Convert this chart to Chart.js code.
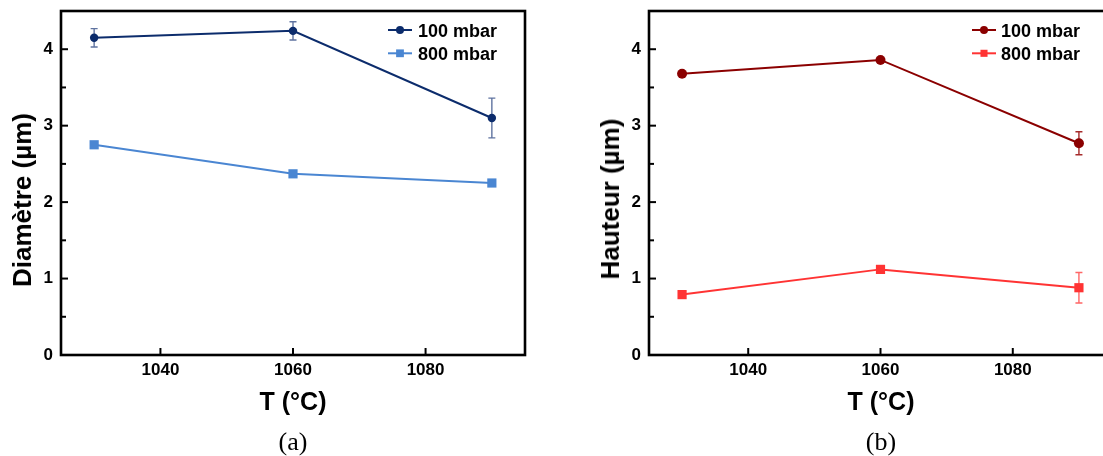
<!DOCTYPE html>
<html>
<head>
<meta charset="utf-8">
<script src="https://cdn.jsdelivr.net/npm/chart.js@4.4.1/dist/chart.umd.min.js"></script>
<style>
  html, body { margin:0; padding:0; background:#fff; width:1103px; height:456px; overflow:hidden; position:relative; }
  canvas { position:absolute; top:0; }
  .t { position:absolute; font-family:"Liberation Sans", Arial, sans-serif; font-weight:bold; color:#000; white-space:nowrap; line-height:1; }
  .cap { position:absolute; font-family:"Liberation Serif", "DejaVu Serif", serif; color:#000; white-space:nowrap; line-height:1; font-size:26px; transform:translateX(-50%); }
  .yt { transform:translate(-50%,-50%) rotate(-90deg); font-size:26px; }
  .xt { transform:translateX(-50%); font-size:25px; }
</style>
</head>
<body>
<canvas id="ca" width="545" height="456" style="left:0px"></canvas>
<canvas id="cb" width="560" height="456" style="left:560px"></canvas>

<div class="t yt" style="left:22px; top:199.5px;">Diamètre (µm)</div>
<div class="t xt" style="left:293px; top:388.5px;">T (°C)</div>
<div class="cap" style="left:293px; top:428.5px;">(a)</div>

<div class="t yt" style="left:610px; top:199px;">Hauteur (µm)</div>
<div class="t xt" style="left:881px; top:388.5px;">T (°C)</div>
<div class="cap" style="left:881px; top:428.5px;">(b)</div>

<script>
// ---------------- data ----------------
const temps = [1030, 1060, 1090];
const seriesLabels = ['100 mbar', '800 mbar'];

const diam100 = [4.15, 4.24, 3.10];
const diam100Err = [0.12, 0.12, 0.26];
const diam800 = [2.75, 2.37, 2.25];
const diam800Err = [0, 0, 0];

const haut100 = [3.68, 3.86, 2.77];
const haut100Err = [0, 0, 0.15];
const haut800 = [0.79, 1.12, 0.88];
const haut800Err = [0, 0, 0.20];

const xTicks = [1040, 1060, 1080];
const yTicks = [0, 0.5, 1, 1.5, 2, 2.5, 3, 3.5, 4, 4.5];
const xMin = 1025, xMax = 1095, yMin = 0, yMax = 4.5;

// ---------------- plugins ----------------
const frameTicks = {
  id: 'frameTicks',
  afterDraw(chart) {
    const ctx = chart.ctx, a = chart.chartArea;
    const xs = chart.scales.x, ys = chart.scales.y;
    ctx.save();
    ctx.strokeStyle = '#000';
    ctx.lineWidth = 2;
    ys.ticks.forEach(t => {
      const py = ys.getPixelForValue(t.value);
      const len = Number.isInteger(t.value) ? 7 : 5;
      ctx.beginPath(); ctx.moveTo(a.left, py); ctx.lineTo(a.left + len, py); ctx.stroke();
    });
    xs.ticks.forEach(t => {
      const px = xs.getPixelForValue(t.value);
      ctx.beginPath(); ctx.moveTo(px, a.bottom); ctx.lineTo(px, a.bottom - 7); ctx.stroke();
    });
    ctx.lineWidth = 2.6;
    ctx.strokeRect(a.left, a.top, a.right - a.left, a.bottom - a.top);
    ctx.restore();
  }
};

const errorBars = {
  id: 'errorBars',
  beforeDatasetsDraw(chart) {
    const ctx = chart.ctx;
    const xs = chart.scales.x, ys = chart.scales.y;
    chart.data.datasets.forEach(ds => {
      if (!ds.errors) return;
      ctx.save();
      ctx.strokeStyle = ds.errorColor;
      ctx.lineWidth = 1.4;
      ds.data.forEach((p, i) => {
        const e = ds.errors[i];
        if (!e) return;
        const px = xs.getPixelForValue(p.x);
        const pt = ys.getPixelForValue(p.y + e);
        const pb = ys.getPixelForValue(p.y - e);
        ctx.beginPath();
        ctx.moveTo(px, pt); ctx.lineTo(px, pb);
        ctx.moveTo(px - 3.5, pt); ctx.lineTo(px + 3.5, pt);
        ctx.moveTo(px - 3.5, pb); ctx.lineTo(px + 3.5, pb);
        ctx.stroke();
      });
      ctx.restore();
    });
  }
};

const originLegend = {
  id: 'originLegend',
  afterDraw(chart, args, o) {
    const ctx = chart.ctx;
    chart.data.datasets.forEach((ds, i) => {
      const y = o.y0 + i * o.dy;
      ctx.save();
      ctx.strokeStyle = ds.borderColor;
      ctx.lineWidth = 2;
      ctx.beginPath(); ctx.moveTo(o.x0, y); ctx.lineTo(o.x0 + o.len, y); ctx.stroke();
      ctx.fillStyle = ds.pointBackgroundColor;
      ctx.strokeStyle = ds.pointBackgroundColor;
      Chart.helpers.drawPoint(ctx, { pointStyle: ds.pointStyle, radius: o.r[i], rotation: 0, borderWidth: 0 }, o.x0 + o.len / 2, y);
      ctx.fillStyle = '#000';
      ctx.font = 'bold 18px "Liberation Sans", Arial, sans-serif';
      ctx.textBaseline = 'alphabetic';
      ctx.textAlign = 'left';
      ctx.fillText(ds.label, o.x0 + o.len + o.gap, y + 6.5);
      ctx.restore();
    });
  }
};

Chart.defaults.font.family = '"Liberation Sans", Arial, sans-serif';
Chart.defaults.color = '#000';

function pts(vals) { return temps.map((t, i) => ({ x: t, y: vals[i] })); }

function makeChart(id, yWidth, padRight, sets, legendOpts) {
  return new Chart(document.getElementById(id), {
    type: 'line',
    data: {
      datasets: sets.map(s => ({
        label: s.label,
        data: pts(s.vals),
        errors: s.err,
        errorColor: s.errColor,
        borderColor: s.color,
        backgroundColor: s.color,
        pointBackgroundColor: s.color,
        pointBorderColor: s.color,
        pointBorderWidth: 0,
        pointStyle: s.style,
        pointRadius: s.r,
        borderWidth: 2,
        tension: 0,
        fill: false
      }))
    },
    options: {
      responsive: false,
      devicePixelRatio: 1,
      animation: false,
      layout: { padding: { left: 0, right: padRight, top: 11, bottom: 0 } },
      plugins: { legend: { display: false }, tooltip: { enabled: false }, originLegend: legendOpts },
      scales: {
        x: {
          type: 'linear', min: xMin, max: xMax,
          afterBuildTicks: s => { s.ticks = xTicks.map(v => ({ value: v })); },
          afterFit: s => { s.height = 101; s.paddingLeft = 0; s.paddingRight = 0; },
          grid: { display: false, drawTicks: false },
          border: { display: false },
          ticks: { padding: 5, font: { size: 17, weight: 'bold' }, maxRotation: 0, autoSkip: false, callback: v => String(v) }
        },
        y: {
          type: 'linear', min: yMin, max: yMax,
          afterBuildTicks: s => { s.ticks = yTicks.map(v => ({ value: v })); },
          afterFit: s => { s.width = yWidth; s.paddingTop = 0; s.paddingBottom = 0; },
          grid: { display: false, drawTicks: false },
          border: { display: false },
          ticks: { padding: 8, font: { size: 17, weight: 'bold' }, autoSkip: false, callback: v => Number.isInteger(v) ? String(v) : '' }
        }
      }
    },
    plugins: [errorBars, frameTicks, originLegend]
  });
}

makeChart('ca', 61, 20, [
  { label: seriesLabels[0], vals: diam100, err: diam100Err, color: '#0c2c6c', errColor: '#5f73a0', style: 'circle', r: 4.2 },
  { label: seriesLabels[1], vals: diam800, err: diam800Err, color: '#4a86d2', errColor: '#7aa6e0', style: 'rect', r: 6.5 }
], { x0: 388, len: 24, gap: 6, y0: 30, dy: 23.3, r: [4, 5.5] });

makeChart('cb', 89, 8, [
  { label: seriesLabels[0], vals: haut100, err: haut100Err, color: '#8b0000', errColor: '#a52a2a', style: 'circle', r: 5 },
  { label: seriesLabels[1], vals: haut800, err: haut800Err, color: '#ff3333', errColor: '#ff6666', style: 'rect', r: 6.5 }
], { x0: 412, len: 24, gap: 5, y0: 30, dy: 23.3, r: [4, 5] });
</script>
</body>
</html>
